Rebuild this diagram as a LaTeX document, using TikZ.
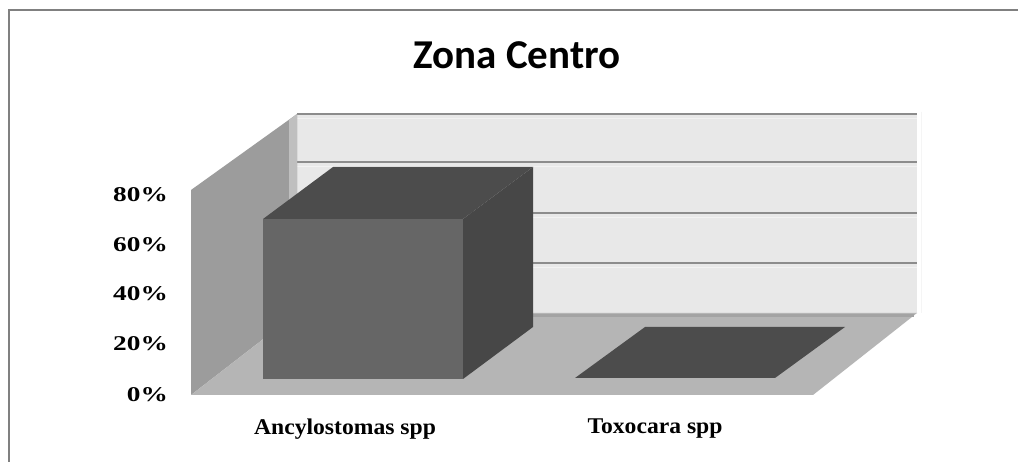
\documentclass[tikz,border=0pt]{standalone}
\usepackage{fontspec}
\newfontfamily\titlefont{Carlito}
\newfontfamily\labfont{Liberation Serif}
\begin{document}
\begin{tikzpicture}[x=1pt,y=-1pt,
  wallside/.style={fill=black!39,draw=none},
  wallback/.style={fill=black!9,draw=none},
  floorface/.style={fill=black!29,draw=none},
  gridln/.style={draw=black!45,line width=1.2pt},
  gridhl/.style={draw=white!95!black,line width=0.8pt},
  barfront/.style={fill=black!60,draw=none},
  bartop/.style={fill=black!70,draw=none},
  barside/.style={fill=black!72,draw=none},
  ticklab/.style={font=\labfont\bfseries\fontsize{21}{21}\selectfont,anchor=east,inner sep=0pt},
  catlab/.style={font=\labfont\bfseries\fontsize{22.5}{22.5}\selectfont,anchor=center,inner sep=0pt},
  frameln/.style={draw=black!50,line width=1.5pt}]
\useasboundingbox (0,0) rectangle (1018,462);
\fill[white] (-10,-10) rectangle (1030,475);
% frame
\draw[frameln] (9,470) -- (9,10) -- (1030,10);
% title
\node[font=\titlefont\bfseries\fontsize{41}{41}\selectfont,inner sep=0pt] (title) at (517,55) {Zona Centro};
% back wall
\fill[wallback] (297,114) rectangle (917,313);
\draw[draw=white!96!black,line width=1pt] (921,112) -- (921,313);
\foreach \yy in {114,162,213,263}{
  \draw[gridhl] (297,\yy+4) -- (917,\yy+4);
  \draw[gridln] (297,\yy) -- (917,\yy);
}
% left wall
\fill[wallside] (191,190) -- (297,114) -- (297,313) -- (191,395) -- cycle;
\fill[black!25] (289,120) -- (297,114) -- (297,313) -- (289,319) -- cycle;
% floor
\fill[floorface] (191,395) -- (297,313) -- (917,313) -- (813,395) -- cycle;
\draw[draw=black!36,line width=3pt] (299,315.5) -- (914,315.5);
% bar 1
\fill[barside] (463,219) -- (533,167) -- (533,327) -- (463,379) -- cycle;
\fill[bartop] (263,219) -- (333,167) -- (533,167) -- (463,219) -- cycle;
\fill[barfront] (263,219) rectangle (463,379);
% bar 2 (0%)
\fill[bartop] (575,378) -- (645,327) -- (845,327) -- (775,378) -- cycle;
% axis labels
\node[ticklab] (t80) at (168,195) {\scalebox{1.3}[1]{80\%}};
\node[ticklab] (t60) at (168,245) {\scalebox{1.3}[1]{60\%}};
\node[ticklab] (t40) at (168,294) {\scalebox{1.3}[1]{40\%}};
\node[ticklab] (t20) at (168,344) {\scalebox{1.3}[1]{20\%}};
\node[ticklab] (t0) at (168,395) {\scalebox{1.3}[1]{0\%}};
% category labels
\node[catlab] (c1) at (345,429) {\scalebox{1.05}[1]{Ancylostomas spp}};
\node[catlab] (c2) at (655,429) {\scalebox{1.05}[1]{Toxocara spp}};
\end{tikzpicture}
\end{document}
